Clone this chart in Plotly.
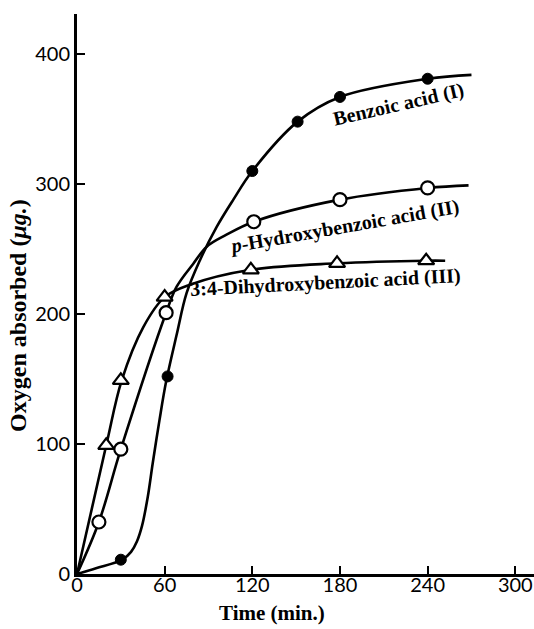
import plotly.graph_objects as go

# ---- measured data points (markers) ----
benzoic_t = [30, 62, 120, 151, 180, 240]
benzoic_o2 = [11, 152, 310, 348, 367, 381]

phydroxy_t = [15, 30, 61, 121, 180, 240]
phydroxy_o2 = [40, 96, 201, 271, 288, 297]

dihydroxy_t = [20, 30, 60, 119, 178, 239]
dihydroxy_o2 = [99, 149, 213, 234, 239, 241]

# ---- hand-drawn fitted curves ----
benzoic_curve_t = [0, 13, 31, 37, 41, 44.5, 48.4, 51.8, 56.4, 61, 68.2, 75, 84, 95.6, 107, 120, 151, 180, 240, 270]
benzoic_curve_o2 = [0, 4.4, 11, 17, 25, 37, 59, 85, 118, 148, 184, 216, 241, 267, 288, 310, 348, 367, 381, 384]

phydroxy_curve_t = [0, 15, 30, 61, 68.2, 79.6, 88.8, 102, 121, 180, 240, 268]
phydroxy_curve_o2 = [0, 40, 96, 201, 221, 238.7, 251.8, 260.8, 271, 288, 297, 299]

dihydroxy_curve_t = [0, 20, 30.6, 45.4, 60, 77.3, 119, 178, 239, 252]
dihydroxy_curve_o2 = [0, 99, 149, 190, 213, 222.5, 234, 239, 241, 241]

x_ticks = [0, 60, 120, 180, 240, 300]
y_ticks = [0, 100, 200, 300, 400]

labels = ["Benzoic acid (I)", "<i>p</i>-Hydroxybenzoic acid (II)", "3:4-Dihydroxybenzoic acid (III)"]
label_pos_t = [220, 183, 170]
label_pos_o2 = [361, 267, 224]
label_angle = [-13, -10, -3]

SERIF = "Liberation Serif, Times New Roman, serif"
TICKFONT = "Lato, Liberation Sans, sans-serif"

fig = go.Figure()

line_style = dict(color="black", width=2.6, shape="spline", smoothing=1.0)
for ct, co in [(benzoic_curve_t, benzoic_curve_o2),
               (phydroxy_curve_t, phydroxy_curve_o2),
               (dihydroxy_curve_t, dihydroxy_curve_o2)]:
    fig.add_trace(go.Scatter(x=ct, y=co, mode="lines", line=line_style,
                             hoverinfo="skip", showlegend=False, cliponaxis=False))

fig.add_trace(go.Scatter(x=benzoic_t, y=benzoic_o2, mode="markers", showlegend=False,
                         marker=dict(symbol="circle", size=11, color="black",
                                     line=dict(color="black", width=1))))
fig.add_trace(go.Scatter(x=phydroxy_t, y=phydroxy_o2, mode="markers", showlegend=False,
                         marker=dict(symbol="circle", size=13, color="white",
                                     line=dict(color="black", width=2.2))))
fig.add_trace(go.Scatter(x=dihydroxy_t, y=dihydroxy_o2, mode="markers", showlegend=False,
                         marker=dict(symbol="triangle-up", size=14, color="white",
                                     line=dict(color="black", width=2.2))))

annotations = []
for txt, t, o, a in zip(labels, label_pos_t, label_pos_o2, label_angle):
    annotations.append(dict(x=t, y=o, xref="x", yref="y", text="<b>" + txt + "</b>",
                            showarrow=False, textangle=a,
                            font=dict(family=SERIF, size=20, color="black")))

annotations.append(dict(x=0.427, y=-0.07, xref="paper", yref="paper",
                        text="<b>Time (min.)</b>", showarrow=False,
                        xanchor="center", yanchor="middle",
                        font=dict(family=SERIF, size=21, color="black")))
annotations.append(dict(x=-0.129, y=0.461, xref="paper", yref="paper",
                        text="<b>Oxygen absorbed (<i>μg.</i>)</b>", showarrow=False,
                        textangle=-90, xanchor="center", yanchor="middle",
                        font=dict(family=SERIF, size=24, color="black")))

fig.update_layout(
    width=534, height=629,
    margin=dict(l=77, r=0, t=14, b=55),
    paper_bgcolor="white", plot_bgcolor="white",
    showlegend=False,
    annotations=annotations,
    xaxis=dict(range=[0, 312.8], tickvals=x_ticks, ticktext=[str(v) for v in x_ticks],
               showgrid=False, zeroline=False, showline=True, linecolor="black", linewidth=3,
               ticks="inside", ticklen=8, tickwidth=2, tickcolor="black",
               ticklabelstandoff=-9,
               tickfont=dict(family=TICKFONT, size=20, color="black")),
    yaxis=dict(range=[0, 430.8], tickvals=y_ticks, ticktext=[str(v) for v in y_ticks],
               showgrid=False, zeroline=False, showline=True, linecolor="black", linewidth=3,
               ticks="inside", ticklen=8, tickwidth=2, tickcolor="black",
               tickfont=dict(family=TICKFONT, size=20, color="black")),
)

fig.write_html("out.html", config={"displayModeBar": False},
               post_script="document.body.style.margin='0';document.body.style.overflow='hidden';")
